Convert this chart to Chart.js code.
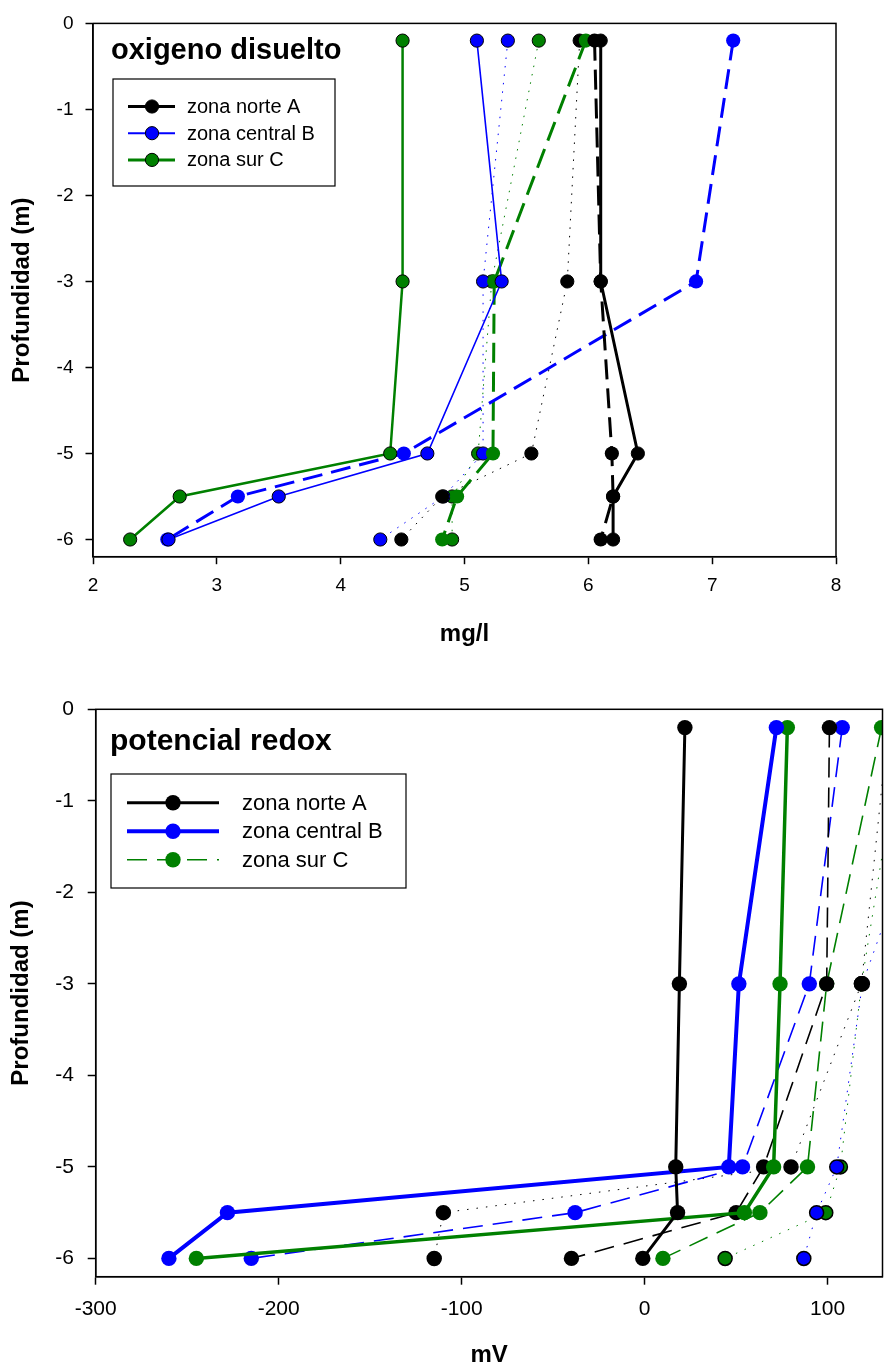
<!DOCTYPE html>
<html>
<head>
<meta charset="utf-8">
<script src="https://cdn.jsdelivr.net/npm/chart.js@4.4.1/dist/chart.umd.min.js"></script>
<style>
  body { margin: 0; background: #fff; }
  canvas { position: absolute; left: 0; }
</style>
</head>
<body>
<canvas id="oxigenoChart" width="891" height="683" style="top:0"></canvas>
<canvas id="redoxChart" width="891" height="684" style="top:683px"></canvas>
<script>
// profundidades de muestreo (m)
const profundidad = [-0.2, -3, -5, -5.5, -6];
const ticksProf = [0, -1, -2, -3, -4, -5, -6];
const ticksOxigeno = [2, 3, 4, 5, 6, 7, 8];
const ticksRedox = [-300, -200, -100, 0, 100];
const zonas = ['zona norte A', 'zona central B', 'zona sur C'];

// oxigeno disuelto (mg/l), tres estaciones por zona
const odNorte1 = [6.1, 6.1, 6.4, 6.2, 6.2];
const odNorte2 = [6.05, 6.1, 6.19, 6.2, 6.1];
const odNorte3 = [5.93, 5.83, 5.54, 4.82, 4.49];
const odCentral1 = [5.1, 5.3, 4.7, 3.5, 2.61];
const odCentral2 = [7.17, 6.87, 4.51, 3.17, 2.6];
const odCentral3 = [5.35, 5.15, 5.15, 4.83, 4.32];
const odSur1 = [4.5, 4.5, 4.4, 2.7, 2.3];
const odSur2 = [5.98, 5.24, 5.23, 4.94, 4.82];
const odSur3 = [5.6, 5.22, 5.11, 4.9, 4.9];

// potencial redox (mV)
const rdNorte1 = [22, 19, 17, 18, -1];
const rdNorte2 = [101, 99.5, 65, 50, -40];
const rdNorte3 = [133, 118.5, 80, -110, -115];
const rdCentral1 = [72, 51.5, 46, -228, -260];
const rdCentral2 = [108, 90, 53.5, -38, -215];
const rdCentral3 = [169, 119, 105, 94, 87];
const rdSur1 = [78, 74, 70.5, 54.5, -245];
const rdSur2 = [129.5, 99.5, 89, 63, 10];
const rdSur3 = [141, 118.5, 107, 99, 44];

const NEGRO = '#000000', AZUL = '#0000ff', VERDE = '#008000';
const FUENTE = '"Liberation Sans", Arial, sans-serif';
Chart.defaults.font.family = FUENTE;
Chart.defaults.color = '#000';

function serie(valores, color, linea) {
    return {
        label: linea.label || '',
        data: valores.map((v, i) => ({ x: v, y: profundidad[i] })),
        showLine: true,
        borderColor: color,
        backgroundColor: color,
        borderWidth: linea.ancho,
        borderDash: linea.dash || [],
        pointRadius: linea.radio,
        pointBorderWidth: linea.borde,
        pointBackgroundColor: color,
        pointBorderColor: linea.borde > 0 && linea.contorno ? NEGRO : color,
        clip: 0
    };
}

// marco, titulo y leyenda dentro del area del grafico
const marco = {
    id: 'marco',
    afterDatasetsDraw(chart, args, o) {
        const { ctx, chartArea: a } = chart;
        ctx.save();
        ctx.strokeStyle = '#000';
        ctx.lineWidth = 1.5;
        ctx.strokeRect(a.left, a.top, a.right - a.left, a.bottom - a.top);

        ctx.fillStyle = '#000';
        ctx.font = 'bold ' + o.tituloSize + 'px ' + FUENTE;
        ctx.textBaseline = 'alphabetic';
        ctx.textAlign = 'left';
        ctx.fillText(o.titulo, o.tituloX, o.tituloY);

        const L = o.leyenda;
        ctx.fillStyle = '#fff';
        ctx.fillRect(L.x, L.y, L.w, L.h);
        ctx.strokeStyle = '#000';
        ctx.lineWidth = 1.2;
        ctx.strokeRect(L.x, L.y, L.w, L.h);
        L.items.forEach((idx, i) => {
            const ds = chart.data.datasets[idx];
            const y = L.fila0 + i * L.paso;
            ctx.beginPath();
            ctx.setLineDash(ds.borderDash);
            ctx.lineDashOffset = 0;
            ctx.strokeStyle = ds.borderColor;
            ctx.lineWidth = L.ancho ? L.ancho[i] : ds.borderWidth;
            ctx.moveTo(L.linea0, y);
            ctx.lineTo(L.linea1, y);
            ctx.stroke();
            ctx.setLineDash([]);
            ctx.beginPath();
            ctx.arc(L.marca, y, ds.pointRadius, 0, Math.PI * 2);
            ctx.fillStyle = ds.pointBackgroundColor;
            ctx.fill();
            if (ds.pointBorderWidth > 0) {
                ctx.lineWidth = ds.pointBorderWidth;
                ctx.strokeStyle = ds.pointBorderColor;
                ctx.stroke();
            }
            ctx.fillStyle = '#000';
            ctx.font = L.fuente + 'px ' + FUENTE;
            ctx.textBaseline = 'middle';
            ctx.fillText(ds.label, L.texto, y + 1);
        });
        ctx.restore();
    }
};

function ejes(cfg) {
    const rejilla = { display: true, drawOnChartArea: false, drawTicks: true, tickLength: cfg.tick, tickColor: '#000', tickWidth: 1.5 };
    const borde = { display: true, color: '#000', width: 1.5 };
    return {
        x: {
            type: 'linear', min: cfg.xmin, max: cfg.xmax,
            afterBuildTicks: s => { s.ticks = cfg.xticks.map(v => ({ value: v })); },
            afterFit: s => { s.height = cfg.altoX; },
            grid: rejilla, border: borde,
            ticks: { font: { size: cfg.tickFont }, color: '#000', padding: cfg.padX, maxRotation: 0 },
            title: { display: true, text: cfg.tituloX, font: { size: 24, weight: 'bold', lineHeight: cfg.lhX }, color: '#000', padding: { top: 0, bottom: cfg.padTituloX } }
        },
        y: {
            type: 'linear', min: -6.2, max: 0,
            afterBuildTicks: s => { s.ticks = ticksProf.map(v => ({ value: v })); },
            afterFit: s => { s.width = cfg.anchoY; },
            grid: rejilla, border: borde,
            ticks: { font: { size: cfg.tickFont }, color: '#000', padding: cfg.padY },
            title: { display: true, text: 'Profundidad (m)', font: { size: 24, weight: 'bold' }, color: '#000', padding: { top: cfg.padTituloY, bottom: 0 } }
        }
    };
}

document.addEventListener('DOMContentLoaded', function() {
    // Grafico de oxigeno disuelto
    const solidoOD = { radio: 6.6, borde: 1, contorno: true };
    const guionOD = { ancho: 3, dash: [20, 9], radio: 7.1, borde: 0 };
    const puntoOD = { ancho: 1, dash: [1.5, 7], radio: 6.6, borde: 1, contorno: true };
    new Chart(document.getElementById('oxigenoChart'), {
        type: 'scatter',
        data: {
            datasets: [
                serie(odNorte1, NEGRO, { ...solidoOD, ancho: 3, label: zonas[0] }),
                serie(odCentral1, AZUL, { ...solidoOD, ancho: 1.6, label: zonas[1] }),
                serie(odSur1, VERDE, { ...solidoOD, ancho: 2.5, label: zonas[2] }),
                serie(odNorte2, NEGRO, guionOD),
                serie(odCentral2, AZUL, guionOD),
                serie(odSur2, VERDE, guionOD),
                serie(odNorte3, NEGRO, puntoOD),
                serie(odCentral3, AZUL, puntoOD),
                serie(odSur3, VERDE, puntoOD)
            ]
        },
        options: {
            responsive: false,
            animation: false,
            layout: { padding: { left: 0, top: 20.7, right: 55, bottom: 0 } },
            plugins: {
                legend: { display: false },
                tooltip: { enabled: false },
                marco: {
                    titulo: 'oxigeno disuelto', tituloSize: 29, tituloX: 111, tituloY: 59,
                    leyenda: { x: 113, y: 79, w: 222, h: 107, items: [0, 1, 2], fila0: 106.5, paso: 26.7,
                        linea0: 128, linea1: 175, marca: 152, texto: 187, fuente: 20, ancho: [3, 2, 3] }
                }
            },
            scales: ejes({ xmin: 2, xmax: 8, xticks: ticksOxigeno, tituloX: 'mg/l', altoX: 126.3, anchoY: 93,
                tick: 7.5, tickFont: 19, padX: 10, padY: 12, lhX: 1.2, padTituloX: 34.6, padTituloY: 8 })
        },
        plugins: [marco]
    });

    // Grafico de potencial redox
    const solidoRD = { radio: 7.7, borde: 0 };
    const guionRD = { ancho: 1.6, dash: [20, 10], radio: 7.7, borde: 0 };
    const puntoRD = { ancho: 1, dash: [1.5, 8], radio: 7, borde: 1.5, contorno: true };
    new Chart(document.getElementById('redoxChart'), {
        type: 'scatter',
        data: {
            datasets: [
                serie(rdNorte1, NEGRO, { ...solidoRD, ancho: 3, label: zonas[0] }),
                serie(rdCentral1, AZUL, { ...solidoRD, ancho: 4, label: zonas[1] }),
                serie(rdSur1, VERDE, { ...solidoRD, ancho: 3.5 }),
                serie(rdNorte2, NEGRO, guionRD),
                serie(rdCentral2, AZUL, guionRD),
                serie(rdSur2, VERDE, { ...guionRD, label: zonas[2] }),
                serie(rdNorte3, NEGRO, puntoRD),
                serie(rdCentral3, AZUL, puntoRD),
                serie(rdSur3, VERDE, puntoRD)
            ]
        },
        options: {
            responsive: false,
            animation: false,
            layout: { padding: { left: 0, top: 24.3, right: 3, bottom: 0 } },
            plugins: {
                legend: { display: false },
                tooltip: { enabled: false },
                marco: {
                    titulo: 'potencial redox', tituloSize: 30, tituloX: 110, tituloY: 67,
                    leyenda: { x: 111, y: 91, w: 295, h: 114, items: [0, 1, 5], fila0: 119.7, paso: 28.5,
                        linea0: 127, linea1: 219, marca: 173, texto: 242, fuente: 22, ancho: [3, 4, 1.6] }
                }
            },
            scales: ejes({ xmin: -300, xmax: 130, xticks: ticksRedox, tituloX: 'mV', altoX: 90.3, anchoY: 95.7,
                tick: 8, tickFont: 21, padX: 11.7, padY: 13.7, lhX: 1, padTituloX: 0, padTituloY: 6.6 })
        },
        plugins: [marco]
    });
});
</script>
</body>
</html>
